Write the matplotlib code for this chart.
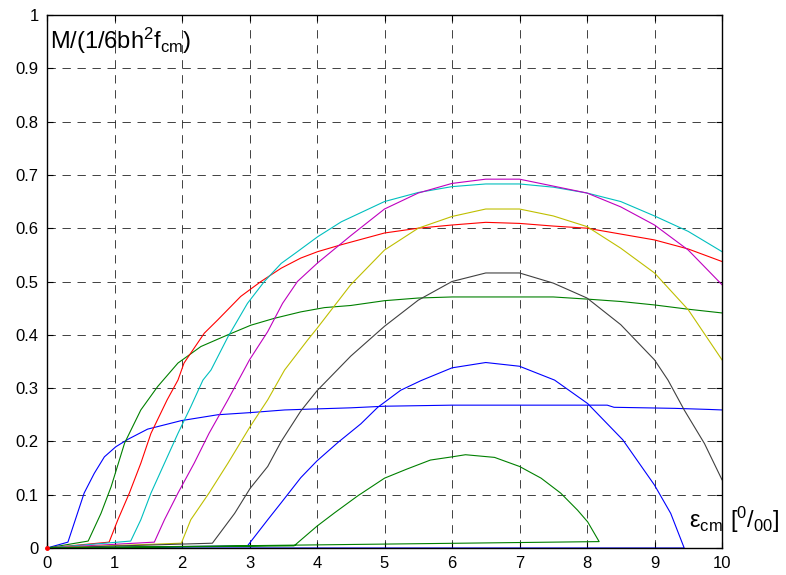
import matplotlib
matplotlib.use("Agg")
import matplotlib.pyplot as plt

plt.rcParams['font.family'] = ['Liberation Sans', 'DejaVu Sans']
plt.rcParams['mathtext.default'] = 'regular'
plt.rcParams['lines.scale_dashes'] = False

# moment curves, MATLAB colour order
x1 = [0, 0.31, 0.55, 0.70, 0.85, 1.02, 1.2, 1.49, 1.99, 2.53, 3.01, 3.52, 4.0, 4.5, 5.0, 6.0, 7.0, 8.3, 8.4, 9.3, 9.8, 10]
y1 = [0, 0.011, 0.103, 0.14, 0.171, 0.19, 0.204, 0.223, 0.239, 0.25, 0.254, 0.259, 0.261, 0.263, 0.266, 0.268, 0.268, 0.268, 0.264, 0.262, 0.26, 0.259]

x2 = [0, 0.61, 0.8, 0.95, 1.15, 1.39, 1.64, 1.94, 2.28, 2.68, 3.02, 3.37, 3.76, 4.11, 4.5, 5.0, 5.5, 6.0, 7.5, 8.0, 8.5, 9.0, 9.5, 10]
y2 = [0, 0.013, 0.065, 0.115, 0.197, 0.259, 0.303, 0.347, 0.378, 0.4, 0.418, 0.431, 0.443, 0.451, 0.455, 0.464, 0.469, 0.471, 0.471, 0.467, 0.4625, 0.456, 0.448, 0.441]

x3 = [0, 0.92, 1.05, 1.22, 1.39, 1.54, 1.78, 1.94, 2.03, 2.33, 2.53, 2.87, 3.17, 3.47, 3.76, 4.01, 4.36, 5.0, 5.5, 6.0, 6.5, 7.0, 7.5, 8.0, 8.5, 9.0, 9.5, 10]
y3 = [0, 0.011, 0.053, 0.103, 0.159, 0.215, 0.278, 0.315, 0.347, 0.403, 0.428, 0.472, 0.5, 0.525, 0.544, 0.556, 0.569, 0.591, 0.6, 0.606, 0.611, 0.609, 0.604, 0.6, 0.589, 0.578, 0.561, 0.5375]

x4 = [0, 1.24, 1.39, 1.54, 1.74, 1.94, 2.13, 2.31, 2.43, 2.68, 2.97, 3.22, 3.47, 3.71, 4.01, 4.36, 5.0, 5.5, 6.0, 6.5, 7.0, 7.5, 8.0, 8.5, 9.0, 9.5, 10]
y4 = [0, 0.013, 0.053, 0.103, 0.159, 0.215, 0.265, 0.315, 0.334, 0.396, 0.459, 0.5, 0.534, 0.556, 0.584, 0.612, 0.65, 0.667, 0.678, 0.683, 0.683, 0.677, 0.666, 0.65, 0.623, 0.594, 0.556]

x5 = [0, 1.59, 1.74, 1.94, 2.18, 2.40, 2.68, 3.0, 3.27, 3.49, 3.71, 4.01, 4.5, 5.0, 5.5, 6.0, 6.5, 7.0, 7.5, 8.0, 8.5, 9.0, 9.5, 10]
y5 = [0, 0.011, 0.053, 0.103, 0.159, 0.215, 0.278, 0.353, 0.406, 0.459, 0.5, 0.535, 0.586, 0.636, 0.666, 0.684, 0.692, 0.692, 0.679, 0.666, 0.64, 0.606, 0.559, 0.494]

x6 = [0, 1.99, 2.13, 2.40, 2.68, 3.01, 3.27, 3.52, 3.86, 4.0, 4.5, 5.0, 5.5, 6.0, 6.5, 7.0, 7.5, 8.0, 8.5, 9.0, 9.5, 10]
y6 = [0, 0.009, 0.053, 0.103, 0.159, 0.228, 0.278, 0.334, 0.39, 0.412, 0.494, 0.559, 0.6, 0.622, 0.636, 0.636, 0.623, 0.603, 0.5625, 0.516, 0.447, 0.353]

x7 = [0, 2.45, 2.78, 3.01, 3.27, 3.47, 3.76, 4.0, 4.5, 5.0, 5.5, 6.0, 6.5, 7.0, 7.5, 8.0, 8.5, 9.0, 9.2, 9.44, 9.74, 10]
y7 = [0, 0.009, 0.065, 0.112, 0.153, 0.2, 0.257, 0.295, 0.36, 0.416, 0.465, 0.5, 0.516, 0.516, 0.497, 0.469, 0.419, 0.353, 0.315, 0.259, 0.196, 0.128]

x8 = [0, 2.97, 3.27, 3.47, 3.76, 4.0, 4.31, 4.65, 4.9, 5.24, 5.54, 6.0, 6.5, 7.0, 7.52, 8.01, 8.53, 9.0, 9.24, 9.44, 0]
y8 = [0, 0.004, 0.053, 0.085, 0.132, 0.1635, 0.198, 0.233, 0.264, 0.296, 0.314, 0.338, 0.348, 0.341, 0.315, 0.271, 0.203, 0.118, 0.065, 0.0, 0]

x9 = [0, 3.66, 4.0, 4.26, 4.6, 5.0, 5.33, 5.68, 6.0, 6.2, 6.63, 7.0, 7.32, 7.61, 7.86, 8.01, 8.18, 0]
y9 = [0, 0.004, 0.041, 0.066, 0.0975, 0.131, 0.148, 0.165, 0.171, 0.175, 0.17, 0.153, 0.131, 0.103, 0.071, 0.049, 0.012, 0]

x10 = [0]
y10 = [0]

curves = [(x1, y1), (x2, y2), (x3, y3), (x4, y4), (x5, y5),
          (x6, y6), (x7, y7), (x8, y8), (x9, y9)]
colors = [(0, 0, 1), (0, 0.5, 0), (1, 0, 0), (0, 0.75, 0.75), (0.75, 0, 0.75),
          (0.75, 0.75, 0), (0.25, 0.25, 0.25), (0, 0, 1), (0, 0.5, 0)]

fig = plt.figure(figsize=(7.86, 5.75), dpi=100)
ax = fig.add_axes([47 / 786, 27 / 575, 675 / 786, 533 / 575])

for (xs, ys), c in zip(curves, colors):
    ax.plot(xs, ys, color=c, lw=0.8)
ax.plot(x10, y10, 'o', color='r', ms=2.5, clip_on=False, zorder=5)

ax.set_xlim(0, 10)
ax.set_ylim(0, 1)
ax.set_xticks(range(0, 11))
ax.set_yticks([i / 10 for i in range(11)])
ax.set_yticklabels(['0', '0.1', '0.2', '0.3', '0.4', '0.5', '0.6', '0.7', '0.8', '0.9', '1'])

ax.grid(True, color='#222222', linestyle=(0, (6, 4.8)), linewidth=0.6)
ax.tick_params(direction='in', top=True, right=True, length=4, width=0.8,
               labelsize=12, pad=6)
for s in ax.spines.values():
    s.set_linewidth(1.0)

ax.text(0.04, 0.936, 'M/(1/6bh$^2$f$_{cm}$)', fontsize=17, va='baseline', ha='left')
ax.text(9.51, 0.0375, r'$ε_{cm}\ [^{0}/_{00}]$', fontsize=17, va='baseline', ha='left',
        clip_on=False)

fig.savefig('out.png', dpi=100)
